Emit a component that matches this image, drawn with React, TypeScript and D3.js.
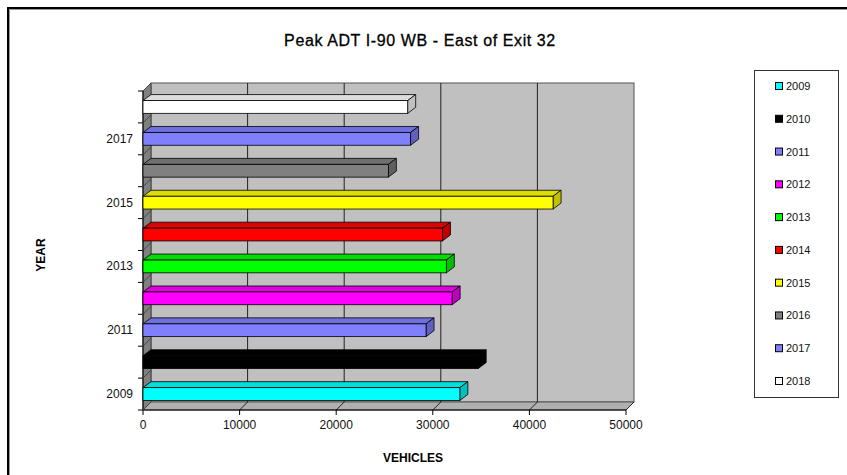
import React, { useEffect, useRef } from 'react';
import * as d3 from 'd3';

const years = ['2009', '2010', '2011', '2012', '2013', '2014', '2015', '2016', '2017', '2018'];
const vehicles = [32800, 34700, 29300, 32000, 31400, 31000, 42450, 25400, 27700, 27400];
const barColors = ['#00FFFF', '#000000', '#8080FF', '#FF00FF', '#00FF00', '#FF0000', '#FFFF00', '#808080', '#8080FF', '#FFFFFF'];
const yearTickLabels = ['2009', '2011', '2013', '2015', '2017'];
const xTicks = [0, 10000, 20000, 30000, 40000, 50000];

const W = 847;
const H = 475;

const App: React.FC = () => {
  const svgRef = useRef<SVGSVGElement>(null);

  useEffect(() => {
    document.body.style.margin = '0';
    if (!svgRef.current) return;
    const svg = d3.select(svgRef.current);
    svg.selectAll('*').remove();

    const font = 'Liberation Sans, Arial, sans-serif';
    const depth = 8; // wall depth offset
    const bdx = 8;   // bar depth x
    const bdy = 6;   // bar depth y

    // front plane of plot
    const left = 143, right = 626, top = 91, bottom = 410;

    const x = d3.scaleLinear().domain([0, 50000]).range([left, right]);
    const y = d3.scaleBand<string>()
      .domain(years.slice().reverse())
      .range([top, bottom])
      .padding(0);

    svg.append('rect').attr('width', W).attr('height', H).attr('fill', '#fff');

    // outer chart frame
    svg.append('path')
      .attr('d', `M8,${H} V8 H${W}`)
      .attr('fill', 'none').attr('stroke', '#000').attr('stroke-width', 2);
    svg.append('path')
      .attr('d', `M9.5,${H} V9.5 H${W}`)
      .attr('fill', 'none').attr('stroke', '#999').attr('stroke-width', 1);

    // title
    svg.append('text')
      .attr('x', 420).attr('y', 46)
      .attr('text-anchor', 'middle')
      .style('font-family', font).style('font-size', '16px')
      .style('letter-spacing', '0.6px')
      .attr('stroke', '#000').attr('stroke-width', 0.3)
      .text('Peak ADT I-90 WB - East  of Exit 32');

    const g = svg.append('g');

    // back wall
    g.append('rect')
      .attr('x', left + depth).attr('y', top - depth)
      .attr('width', right - left).attr('height', bottom - top)
      .attr('fill', '#c0c0c0').attr('stroke', '#555').attr('stroke-width', 1);

    // left wall
    g.append('path')
      .attr('d', `M${left},${top} L${left + depth},${top - depth} L${left + depth},${bottom - depth} L${left},${bottom} Z`)
      .attr('fill', '#808080').attr('stroke', '#444').attr('stroke-width', 1);

    // floor
    g.append('path')
      .attr('d', `M${left},${bottom} L${left + depth},${bottom - depth} L${right + depth},${bottom - depth} L${right},${bottom} Z`)
      .attr('fill', '#b0b0b0').attr('stroke', '#555').attr('stroke-width', 1);

    // gridlines on back wall and floor
    xTicks.forEach(t => {
      const xv = x(t);
      if (t > 0 && t < 50000) {
        g.append('line')
          .attr('x1', xv + depth).attr('x2', xv + depth)
          .attr('y1', top - depth).attr('y2', bottom - depth)
          .attr('stroke', '#222').attr('stroke-width', 1);
      }
      g.append('line')
        .attr('x1', xv).attr('y1', bottom)
        .attr('x2', xv + depth).attr('y2', bottom - depth)
        .attr('stroke', '#222').attr('stroke-width', 1);
      g.append('line')
        .attr('x1', xv).attr('x2', xv)
        .attr('y1', bottom).attr('y2', bottom + 5)
        .attr('stroke', '#000').attr('stroke-width', 1);
      g.append('text')
        .attr('x', xv).attr('y', bottom + 19)
        .attr('text-anchor', 'middle')
        .style('font-family', font).style('font-size', '12px')
        .attr('fill', '#111')
        .text(String(t));
    });

    // front axis lines
    g.append('line')
      .attr('x1', left).attr('x2', right).attr('y1', bottom).attr('y2', bottom)
      .attr('stroke', '#000');
    g.append('line')
      .attr('x1', left).attr('x2', left).attr('y1', top).attr('y2', bottom)
      .attr('stroke', '#000');

    // y ticks at band boundaries
    const bounds = years.map(yr => y(yr) as number).concat([bottom]);
    bounds.forEach(b => {
      g.append('line')
        .attr('x1', left - 5).attr('x2', left).attr('y1', b).attr('y2', b)
        .attr('stroke', '#000');
      g.append('line')
        .attr('x1', left).attr('x2', left + depth).attr('y1', b).attr('y2', b - depth)
        .attr('stroke', '#444');
    });

    yearTickLabels.forEach(yr => {
      g.append('text')
        .attr('x', 133).attr('y', (y(yr) as number) + y.bandwidth() / 2 + 4)
        .attr('text-anchor', 'end')
        .style('font-family', font).style('font-size', '12px')
        .attr('fill', '#111')
        .text(yr);
    });

    // bars
    const bh = y.bandwidth() * 0.4;
    years.forEach((yr, i) => {
      const c = (y(yr) as number) + y.bandwidth() / 2;
      const y0 = c - bh / 2;
      const y1 = c + bh / 2;
      const x0 = x(0);
      const x1 = x(vehicles[i]);
      const base = barColors[i];
      const topCol = d3.color(base)!.darker(0.4).toString();
      const sideCol = d3.color(base)!.darker(0.8).toString();

      g.append('path')
        .attr('d', `M${x0},${y0} L${x1},${y0} L${x1 + bdx},${y0 - bdy} L${x0 + bdx},${y0 - bdy} Z`)
        .attr('fill', topCol).attr('stroke', '#000').attr('stroke-width', 0.8);
      g.append('path')
        .attr('d', `M${x1},${y0} L${x1 + bdx},${y0 - bdy} L${x1 + bdx},${y1 - bdy} L${x1},${y1} Z`)
        .attr('fill', sideCol).attr('stroke', '#000').attr('stroke-width', 0.8);
      g.append('rect')
        .attr('x', x0).attr('y', y0)
        .attr('width', x1 - x0).attr('height', bh)
        .attr('fill', base).attr('stroke', '#000').attr('stroke-width', 0.8);
    });

    // axis titles
    svg.append('text')
      .attr('transform', 'translate(45,255) rotate(-90)')
      .attr('text-anchor', 'middle')
      .style('font-family', font).style('font-size', '12px').style('font-weight', 'bold')
      .text('YEAR');
    svg.append('text')
      .attr('x', 413).attr('y', 462)
      .attr('text-anchor', 'middle')
      .style('font-family', font).style('font-size', '12px').style('font-weight', 'bold')
      .text('VEHICLES');

    // legend
    const lg = svg.append('g');
    lg.append('rect')
      .attr('x', 754.5).attr('y', 70.5).attr('width', 84).attr('height', 327)
      .attr('fill', '#fff').attr('stroke', '#333').attr('stroke-width', 1);
    const ly = d3.scalePoint<string>().domain(years).range([86, 381]);
    years.forEach((yr, i) => {
      const cy = ly(yr) as number;
      lg.append('rect')
        .attr('x', 775.5).attr('y', cy - 3.5).attr('width', 7).attr('height', 7)
        .attr('fill', barColors[i]).attr('stroke', '#000').attr('stroke-width', 1);
      lg.append('text')
        .attr('x', 786).attr('y', cy + 4)
        .style('font-family', font).style('font-size', '11px')
        .attr('fill', '#111')
        .text(yr);
    });
  }, []);

  return <svg ref={svgRef} width={W} height={H} style={{ display: 'block' }} />;
};

export default App;
